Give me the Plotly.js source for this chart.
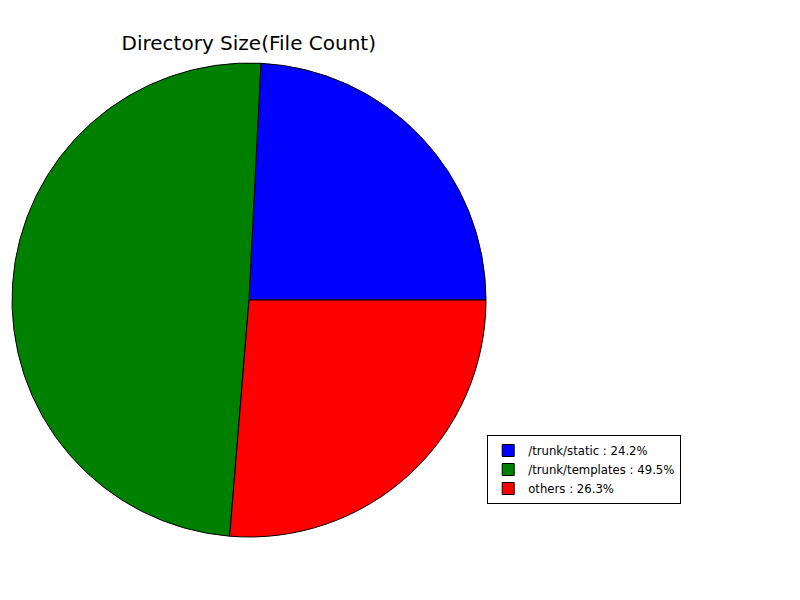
<!DOCTYPE html>
<html>
<head>
<meta charset="utf-8">
<script src="https://cdn.plot.ly/plotly-3.0.1.min.js"></script>
<style>html,body{margin:0;padding:0;background:#fff;}#chart{width:800px;height:600px;}</style>
</head>
<body>
<div id="chart"></div>
<script>
const categories = ['/trunk/static', '/trunk/templates', 'others'];
const percents = [24.2, 49.5, 26.3];
const colors = ['#0000ff', '#008000', '#ff0000'];
const legendLabels = categories.map((c, i) => c + ' : ' + percents[i].toFixed(1) + '%');

// counterclockwise pies in Plotly place the END of the first slice at `rotation`;
// we want the first slice to START at 3 o'clock (90deg clockwise from 12).
const total = percents.reduce((a, b) => a + b, 0);
const startRotation = 90 - 360 * percents[0] / total;

const trace = {
  type: 'pie',
  labels: legendLabels,
  values: percents,
  sort: false,
  direction: 'counterclockwise',
  rotation: startRotation,
  textinfo: 'none',
  hoverinfo: 'label',
  marker: {colors: colors, line: {color: '#000000', width: 1}},
  domain: {x: [0.015, 0.6075], y: [0.105, 0.895]}
};

const layout = {
  width: 800, height: 600,
  margin: {l: 0, r: 0, t: 0, b: 0},
  paper_bgcolor: '#ffffff',
  font: {family: 'DejaVu Sans', color: '#000000'},
  title: {text: 'Directory Size(File Count)', font: {family: 'DejaVu Sans', size: 20, color: '#000'},
          x: 0.311, xanchor: 'center', y: 0.928, yanchor: 'middle'},
  showlegend: true,
  legend: {x: 0.609, xanchor: 'left', y: 0.275, yanchor: 'top',
           bordercolor: '#000', borderwidth: 1, bgcolor: '#fff',
           font: {family: 'DejaVu Sans', size: 11.7, color: '#000'}}
};

Plotly.newPlot('chart', [trace], layout, {displayModeBar: false});
</script>
</body>
</html>
